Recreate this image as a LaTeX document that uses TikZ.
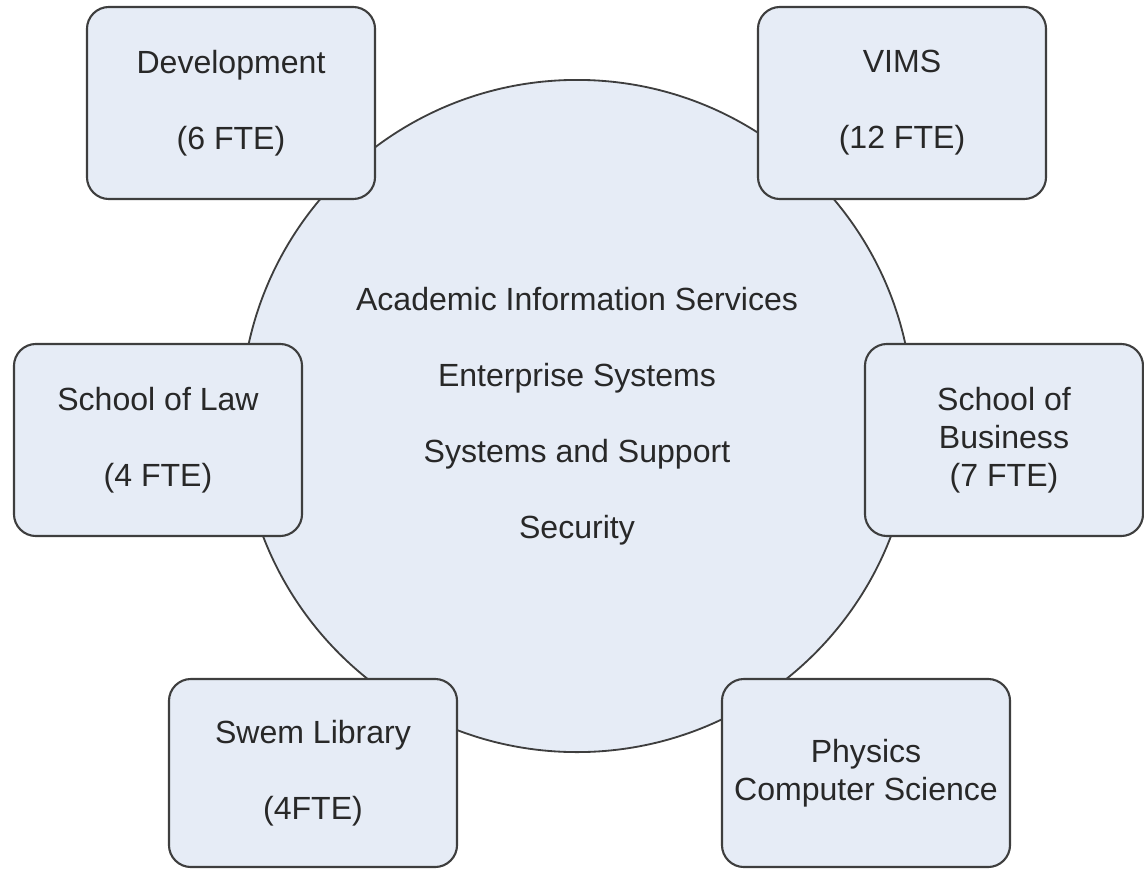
\documentclass[tikz,border=0pt]{standalone}
\usepackage{fontspec}
\setmainfont{Liberation Sans}
\usepackage{xcolor}
\usepackage{tikz}
\definecolor{unitfill}{RGB}{230,236,246}
\definecolor{unitline}{RGB}{62,62,62}
\definecolor{unittext}{RGB}{40,40,40}

\tikzset{
  unitfont/.style={font=\fontsize{22.8}{27}\selectfont},
  unit/.style={draw=unitline, fill=unitfill, line width=1.5pt, rounded corners=0.55cm,
    text=unittext, align=center, unitfont, minimum width=7.2cm, minimum height=4.8cm},
  core/.style={circle, draw=unitline, fill=unitfill, line width=1.3pt, inner sep=0pt,
    minimum size=16.8cm, text=unittext, align=center, unitfont}
}

\begin{document}
\begin{tikzpicture}[x=0.025cm, y=-0.025cm]
        \useasboundingbox (0,0) rectangle (1144,869);

        % Central services
        \node[core] (core) at (577,416) {Academic Information Services\\[27pt]
          Enterprise Systems\\[27pt]Systems and Support\\[27pt]Security};

        % Top row
        \node[unit] (dev) at (231,103) {Development\\[27pt](6 FTE)};
        \node[unit] (vims) at (902,103) {VIMS\\[27pt](12 FTE)};

        % Middle row
        \node[unit] (law) at (158,440) {School of Law\\[27pt](4 FTE)};
        \node[unit, minimum width=6.95cm] (business) at (1004,440) {School of\\Business\\(7 FTE)};

        % Bottom row
        \node[unit, minimum height=4.7cm] (swem) at (313,773) {Swem Library\\[27pt](4FTE)};
        \node[unit, minimum height=4.7cm] (physics) at (866,773) {Physics\\Computer Science};
    \end{tikzpicture}
\end{document}
